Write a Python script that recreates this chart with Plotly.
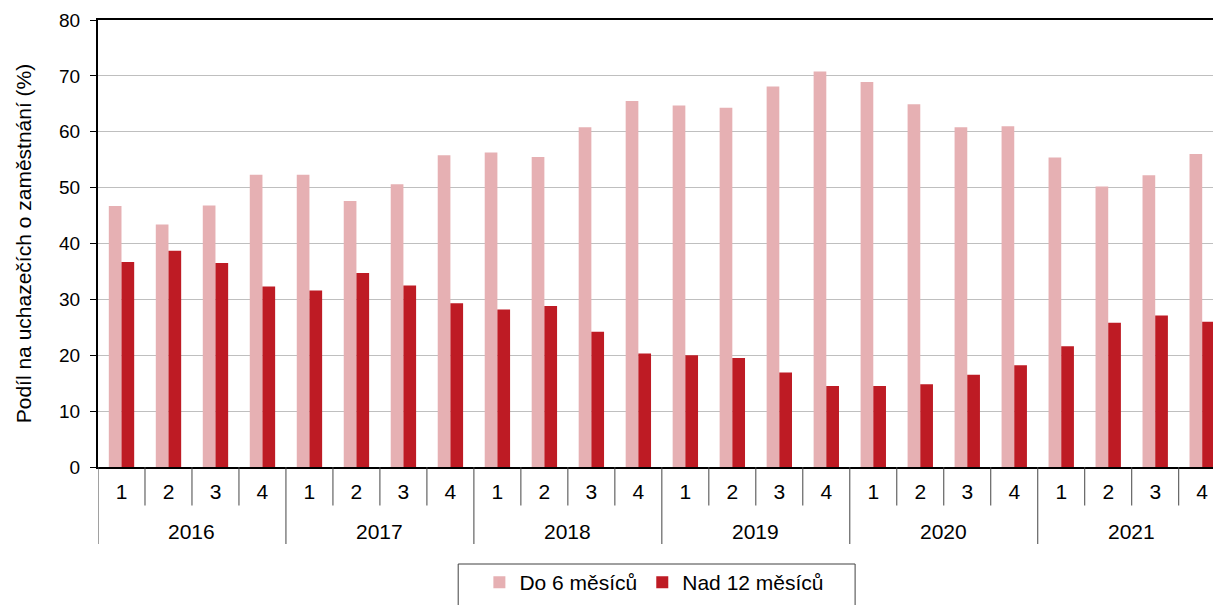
import plotly.graph_objects as go

years = ["2016", "2017", "2018", "2019", "2020", "2021"]
quarters = ["1", "2", "3", "4"]

do6 = [46.7, 43.4, 46.8, 52.3,
       52.3, 47.6, 50.6, 55.8,
       56.3, 55.5, 60.8, 65.5,
       64.7, 64.3, 68.1, 70.8,
       68.9, 64.9, 60.8, 61.0,
       55.4, 50.2, 52.2, 56.0]
nad12 = [36.7, 38.7, 36.5, 32.3,
         31.6, 34.7, 32.5, 29.3,
         28.2, 28.8, 24.2, 20.3,
         20.0, 19.5, 16.9, 14.5,
         14.5, 14.8, 16.5, 18.2,
         21.6, 25.8, 27.1, 26.0]

series_names = ["Do 6 měsíců", "Nad 12 měsíců"]
colors = ["#E6B0B3", "#BE1B24"]

n = len(years) * len(quarters)
x_idx = list(range(n))
x_labels = [q for y in years for q in quarters]

font_family = "Arial, Liberation Sans, sans-serif"
plot_h = 605 - 20 - 138  # plot area height in px

fig = go.Figure()
for name, vals, col in zip(series_names, [do6, nad12], colors):
    fig.add_trace(go.Bar(
        x=x_idx, y=vals, name=name,
        marker=dict(color=col, line=dict(width=0)),
    ))

shapes = []
for i in range(n + 1):
    is_year = (i % len(quarters) == 0)
    depth = 77 if is_year else 38.5
    shapes.append(dict(type="line", xref="x", yref="paper",
                       x0=i - 0.5, x1=i - 0.5, y0=0, y1=-depth / plot_h,
                       line=dict(color="#444444", width=1)))
# legend frame
shapes.append(dict(type="rect", xref="paper", yref="paper",
                   x0=(458 - 97.7) / 1115.3, x1=(855 - 97.7) / 1115.3,
                   y0=-97 / plot_h, y1=-160 / plot_h,
                   line=dict(color="#404040", width=1), fillcolor="rgba(0,0,0,0)"))

annotations = []
for k, yr in enumerate(years):
    annotations.append(dict(
        x=k * len(quarters) + (len(quarters) - 1) / 2, xref="x",
        y=-64 / plot_h, yref="paper", yanchor="middle", xanchor="center",
        text=yr, showarrow=False,
        font=dict(family=font_family, size=21, color="black")))

fig.update_layout(
    width=1213, height=605,
    margin=dict(l=98, r=0, t=20, b=138),
    paper_bgcolor="white", plot_bgcolor="white",
    barmode="group", bargap=0.46, bargroupgap=0,
    font=dict(family=font_family, size=21, color="black"),
    showlegend=True,
    legend=dict(
        orientation="h", x=0.499, xanchor="center", y=-136 / plot_h, yanchor="bottom",
        borderwidth=0, bgcolor="rgba(0,0,0,0)",
        font=dict(family=font_family, size=21, color="black"),
        traceorder="normal",
    ),
    shapes=shapes,
    annotations=annotations,
    xaxis=dict(
        type="linear",
        range=[-0.5, -0.5 + 1115.3 / 47.0],
        tickmode="array", tickvals=x_idx, ticktext=x_labels,
        showline=True, linecolor="black", linewidth=2, mirror=True,
        ticks="", ticklabelstandoff=5,
        showgrid=False, zeroline=False, automargin=False,
        tickfont=dict(family=font_family, size=21, color="black"),
    ),
    yaxis=dict(
        range=[0, 80], dtick=10,
        showline=True, linecolor="black", linewidth=2,
        ticks="outside", ticklen=6, tickcolor="black",
        ticklabelstandoff=6,
        showgrid=True, gridcolor="#BFBFBF", gridwidth=1,
        zeroline=False, automargin=False,
        tickfont=dict(family=font_family, size=19, color="black"),
        title=dict(text="Podíl na uchazečích o zaměstnání (%)",
                   font=dict(family=font_family, size=21, color="black"),
                   standoff=22),
    ),
)

fig.write_html("out.html",
               config={"displayModeBar": False, "responsive": False},
               post_script="document.body.style.margin='0px';document.body.style.padding='0px';")
